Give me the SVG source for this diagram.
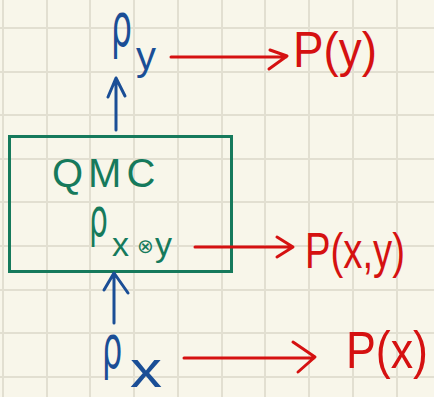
<svg xmlns="http://www.w3.org/2000/svg" width="434" height="397" viewBox="0 0 434 397">
<defs>
<style>
.grid{stroke:#e2dfd1;stroke-width:2}
.blue{fill:#1a4e96;font-family:"DejaVu Sans",sans-serif}
.bsub{fill:#1a4e96;font-family:"Liberation Sans",sans-serif}
.green{fill:#167a5c;font-family:"Liberation Sans",sans-serif}
.gsym{fill:#167a5c;font-family:"DejaVu Sans",sans-serif}
.red{fill:#d51111;font-family:"Liberation Sans",sans-serif}
.bl{stroke:#1a4e96;stroke-width:3;fill:none;stroke-linecap:round;stroke-linejoin:round}
.rl{stroke:#d51111;stroke-width:3;fill:none;stroke-linecap:round;stroke-linejoin:round}
</style>
</defs>
<rect width="434" height="397" fill="#f8f6ea"/>
<g id="grid" class="grid">
<line x1="3" y1="0" x2="3" y2="397"/><line x1="47" y1="0" x2="47" y2="397"/><line x1="90" y1="0" x2="90" y2="397"/><line x1="134" y1="0" x2="134" y2="397"/><line x1="178" y1="0" x2="178" y2="397"/><line x1="222" y1="0" x2="222" y2="397"/><line x1="265" y1="0" x2="265" y2="397"/><line x1="309" y1="0" x2="309" y2="397"/><line x1="353" y1="0" x2="353" y2="397"/><line x1="397" y1="0" x2="397" y2="397"/>
<line x1="0" y1="28" x2="434" y2="28"/><line x1="0" y1="72" x2="434" y2="72"/><line x1="0" y1="115" x2="434" y2="115"/><line x1="0" y1="159" x2="434" y2="159"/><line x1="0" y1="202" x2="434" y2="202"/><line x1="0" y1="246" x2="434" y2="246"/><line x1="0" y1="290" x2="434" y2="290"/><line x1="0" y1="333" x2="434" y2="333"/><line x1="0" y1="377" x2="434" y2="377"/>
</g>
<g id="qmc">
<rect x="9.5" y="136.5" width="222" height="135" fill="none" stroke="#167a5c" stroke-width="3"/>
<text class="green" x="52" y="187" font-size="40" letter-spacing="5">QMC</text>
<text class="gsym" transform="translate(89,236) scale(0.55,1)" font-size="54">ρ</text>
<text class="green" x="112" y="256" font-size="34">x</text>
<text class="gsym" x="137" y="253" font-size="20">⊗</text>
<text class="green" x="155" y="256" font-size="34">y</text>
</g>
<g id="rho-y">
<text class="blue" transform="translate(111,46) scale(0.55,1)" font-size="60">ρ</text>
<text class="bsub" x="136" y="70" font-size="40">y</text>
</g>
<g id="rho-x">
<text class="blue" transform="translate(102,368) scale(0.55,1)" font-size="58">ρ</text>
<text class="bsub" x="130" y="387" font-size="50" textLength="32" lengthAdjust="spacingAndGlyphs">x</text>
</g>
<g id="p-y"><text class="red" x="293" y="67" font-size="50" textLength="84" lengthAdjust="spacingAndGlyphs">P(y)</text></g>
<g id="p-xy"><text class="red" x="305" y="268" font-size="50" textLength="100" lengthAdjust="spacingAndGlyphs">P(x,y)</text></g>
<g id="p-x"><text class="red" x="346" y="368" font-size="52" textLength="82" lengthAdjust="spacingAndGlyphs">P(x)</text></g>
<g id="connectors">
<path class="bl" d="M116,130 V79 M108,97 L116,78 L125,96"/>
<path class="bl" d="M114,323 V275 M104,290 L114,273 L128,293"/>
<path class="rl" d="M171,57 H286 M270,50 L287,56 L269,69"/>
<path class="rl" d="M195,247 H292 M277,237 L293,247 L277,257"/>
<path class="rl" d="M184,358 H314 M293,342 L315,357 L298,372"/>
</g>
</svg>
